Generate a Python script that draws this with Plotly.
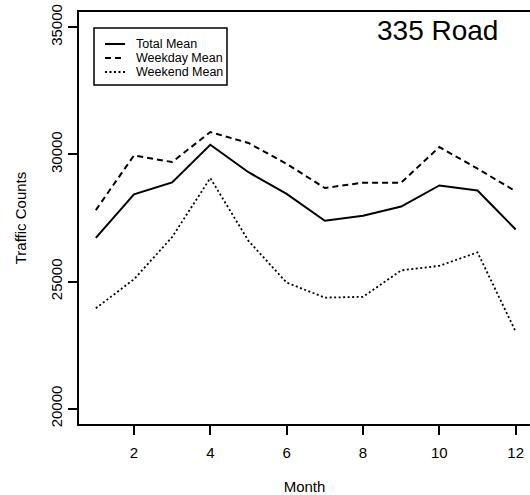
import plotly.graph_objects as go

months = [1, 2, 3, 4, 5, 6, 7, 8, 9, 10, 11, 12]
total_mean = [26720, 28430, 28900, 30380, 29300, 28450, 27390, 27590, 27950, 28780, 28580, 27050]
weekday_mean = [27810, 29960, 29700, 30880, 30450, 29630, 28680, 28890, 28890, 30290, 29440, 28550]
weekend_mean = [23950, 25090, 26750, 29070, 26600, 24960, 24370, 24400, 25440, 25620, 26150, 23030]

series_names = ["Total Mean", "Weekday Mean", "Weekend Mean"]
series_values = [total_mean, weekday_mean, weekend_mean]
series_styles = [dict(width=2, dash="solid"),
                 dict(width=2, dash="6px,4px"),
                 dict(width=1.8, dash="2px,2.5px")]

x_ticks = [2, 4, 6, 8, 10, 12]
y_ticks = [20000, 25000, 30000, 35000]
y_tick_labels = ["20000", "25000", "30000", "35000"]

FONT = "Liberation Sans, Arial, sans-serif"

# plot area in pixels: x 79..530, y 12..424
L, R, T, B = 79, 530, 12, 424
W, H = R - L, B - T
def px(xp):
    return (xp - L) / W
def py(yp):
    return (B - yp) / H

fig = go.Figure()
for name, vals, st in zip(series_names, series_values, series_styles):
    fig.add_trace(go.Scatter(x=months, y=vals, mode="lines", name=name, showlegend=False,
                             line=dict(color="black", width=st["width"], dash=st["dash"])))

shapes = [dict(type="rect", xref="paper", yref="paper",
               x0=px(94), x1=px(227), y0=py(85), y1=py(28),
               line=dict(color="black", width=1.5), fillcolor="white", layer="above")]
annotations = []
for i, (name, st) in enumerate(zip(series_names, series_styles)):
    row_y = 44 + 14 * i
    shapes.append(dict(type="line", xref="paper", yref="paper",
                       x0=px(105), x1=px(125), y0=py(row_y), y1=py(row_y),
                       line=dict(color="black", width=st["width"], dash=st["dash"]),
                       layer="above"))
    annotations.append(dict(text=name, xref="paper", yref="paper", x=px(134), y=py(row_y),
                            xanchor="left", yanchor="middle", showarrow=False,
                            font=dict(size=12.5, family=FONT, color="black")))
annotations.append(dict(text="335 Road", xref="paper", yref="paper",
                        x=px(437), y=py(31), xanchor="center", yanchor="middle",
                        showarrow=False, font=dict(size=28, family=FONT, color="black")))

fig.update_layout(
    width=530, height=495,
    margin=dict(l=L, r=530 - R, t=T, b=495 - B),
    paper_bgcolor="white", plot_bgcolor="white",
    font=dict(family=FONT, color="black", size=12),
    showlegend=False,
    xaxis=dict(range=[0.56, 12.375], tickvals=x_ticks, ticktext=[str(v) for v in x_ticks],
               showgrid=False, zeroline=False, showline=True, linecolor="black", linewidth=2,
               mirror=True, ticks="outside", ticklen=9, tickwidth=1.5, tickcolor="black",
               tickfont=dict(size=15, family=FONT), ticklabelstandoff=5, automargin=False,
               title=dict(text="Month", font=dict(size=15, family=FONT), standoff=25)),
    yaxis=dict(range=[19400, 35600], tickvals=y_ticks, ticktext=y_tick_labels,
               showgrid=False, zeroline=False, showline=True, linecolor="black", linewidth=2,
               ticks="outside", ticklen=9, tickwidth=1.5, tickcolor="black",
               tickangle=-90, tickfont=dict(size=15, family=FONT), ticklabelstandoff=0,
               automargin=False,
               title=dict(text="Traffic Counts", font=dict(size=15, family=FONT), standoff=18)),
    shapes=shapes,
    annotations=annotations,
)

fig.write_html("out.html", config={"displayModeBar": False},
               post_script="document.body.style.margin='0';document.body.style.overflow='hidden';")
